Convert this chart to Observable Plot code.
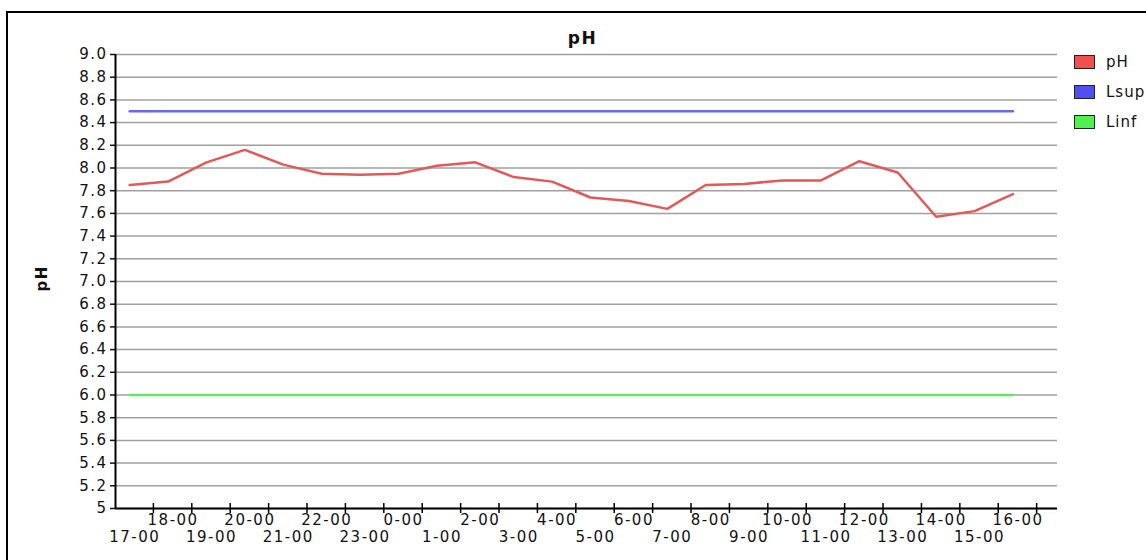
<!DOCTYPE html>
<html><head><meta charset="utf-8">
<script src="https://cdn.jsdelivr.net/npm/d3@7"></script>
<script src="https://cdn.jsdelivr.net/npm/@observablehq/plot@0.6"></script>
<style>
body{margin:0;background:#fff;}
#wrap{position:relative;width:1146px;height:560px;overflow:hidden;background:#fff;}
#border{position:absolute;left:6px;top:11px;width:1200px;height:600px;border-left:2px solid #000;border-top:2px solid #000;}
#legend{position:absolute;left:1074px;top:47px;font:15px "DejaVu Sans",sans-serif;letter-spacing:1px;color:#111;white-space:nowrap}
.item{display:flex;align-items:center;height:30px}
.sw{width:19px;height:12px;border:1px solid #222;margin-right:11px;box-sizing:content-box}
#chart svg{position:absolute;left:0;top:0}
</style></head>
<body>
<div id="wrap"><div id="border"></div><div id="chart"></div><div id="legend"></div></div>
<script>
const title = "pH";
const yLabel = "pH";
const categories = ["17-00","18-00","19-00","20-00","21-00","22-00","23-00","0-00","1-00","2-00","3-00","4-00","5-00","6-00","7-00","8-00","9-00","10-00","11-00","12-00","13-00","14-00","15-00","16-00"];
const phValues = [7.85,7.88,8.05,8.16,8.03,7.95,7.94,7.95,8.02,8.05,7.92,7.88,7.74,7.71,7.64,7.85,7.86,7.89,7.89,8.06,7.96,7.57,7.62,7.77];
const lsupValues = categories.map(() => 8.5);
const linfValues = categories.map(() => 6.0);
const seriesNames = ["pH","Lsup","Linf"];
const lineColors = ["#e05a5a","#6a6ae6","#66e666"];
const swatchColors = ["#f05050","#5050f0","#50f050"];
const yTicks = [9.0,8.8,8.6,8.4,8.2,8.0,7.8,7.6,7.4,7.2,7.0,6.8,6.6,6.4,6.2,6.0,5.8,5.6,5.4,5.2,5];
const yDomain = [5, 9];
const xDomain = [-0.37, 24.16];
const tickOffset = 0.617;

const seriesValues = [phValues, lsupValues, linfValues];
const rows = [];
[2,1,0].forEach(s => seriesValues[s].forEach((v, i) => rows.push({series: seriesNames[s], i, value: v})));
const labelRows = categories.map((c, i) => ({label: c, i}));
const xTickPos = categories.map((c, i) => i + tickOffset);

const chart = Plot.plot({
  width: 1146, height: 560,
  marginLeft: 115, marginRight: 89, marginTop: 54, marginBottom: 52,
  style: {fontFamily: "DejaVu Sans, sans-serif", fontSize: "15px", color: "#111", background: "transparent", letterSpacing: "1.5px"},
  x: {domain: xDomain, axis: null},
  y: {domain: yDomain, axis: null},
  color: {domain: seriesNames, range: lineColors},
  marks: [
    Plot.gridY(yTicks, {stroke: "#a0a0a0", strokeOpacity: 1, strokeWidth: 1.5}),
    Plot.line(rows, {x: "i", y: "value", z: "series", stroke: "series", strokeWidth: 2.5}),
    Plot.axisY(yTicks, {tickSize: 5, tickPadding: 3, strokeWidth: 1.5, label: null, tickFormat: d => d === 5 ? "5" : d.toFixed(1)}),
    Plot.ruleY([yDomain[0]], {stroke: "#000", strokeWidth: 2}),
    Plot.ruleX([xDomain[0]], {stroke: "#000", strokeWidth: 2}),
    Plot.ruleX(xTickPos, {y1: () => yDomain[0], y2: () => yDomain[0], insetTop: -5, insetBottom: -5, stroke: "#000", strokeWidth: 1.5}),
    Plot.text(labelRows.filter(d => d.i % 2 === 1), {x: "i", y: () => yDomain[0], text: "label", dx: 5, dy: 12, lineAnchor: "middle"}),
    Plot.text(labelRows.filter(d => d.i % 2 === 0), {x: "i", y: () => yDomain[0], text: "label", dx: 5, dy: 29, lineAnchor: "middle"}),
    Plot.text([title], {frameAnchor: "top", text: d => d, dy: -16, dx: -4, fontWeight: "bold", fontSize: 17, lineAnchor: "middle"}),
    Plot.text([yLabel], {frameAnchor: "left", text: d => d, rotate: -90, dx: -73, dy: 10, fontWeight: "bold", fontSize: 15, lineAnchor: "middle"})
  ]
});
document.getElementById("chart").appendChild(chart);

const legend = document.getElementById("legend");
seriesNames.forEach((name, k) => {
  const item = document.createElement("div");
  item.className = "item";
  const sw = document.createElement("span");
  sw.className = "sw";
  sw.style.background = swatchColors[k];
  const label = document.createElement("span");
  label.textContent = name;
  item.appendChild(sw); item.appendChild(label);
  legend.appendChild(item);
});
</script>
</body></html>
